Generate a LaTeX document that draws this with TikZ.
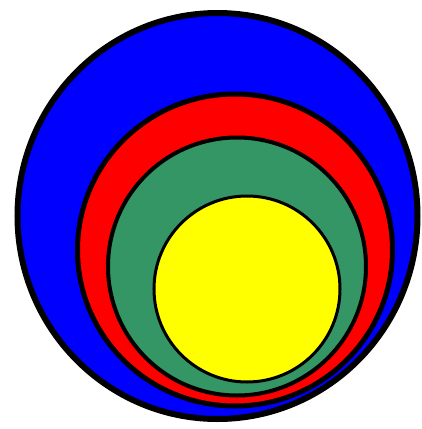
\documentclass[tikz,border=0pt]{standalone}
\definecolor{cblue}{RGB}{0,0,255}
\definecolor{cred}{RGB}{255,0,0}
\definecolor{cgreen}{RGB}{52,150,100}
\definecolor{cyellow}{RGB}{255,255,0}
\tikzset{ring/.style={draw=black, line width=#1}}
\begin{document}
\begin{tikzpicture}[x=1bp,y=-1bp]
\useasboundingbox (0,0) rectangle (422,429);
\fill[white] (0,0) rectangle (422,429);
\path[ring=6bp, fill=cblue] (217.5,216) ellipse [x radius=200, y radius=203];
\path[ring=5bp, fill=cred] (235,250) ellipse [x radius=157.5, y radius=156];
\path[ring=4bp, fill=cgreen] (237,266.5) circle [radius=129];
\path[ring=3bp, fill=cyellow] (247,289) circle [radius=93];
\end{tikzpicture}
\end{document}
